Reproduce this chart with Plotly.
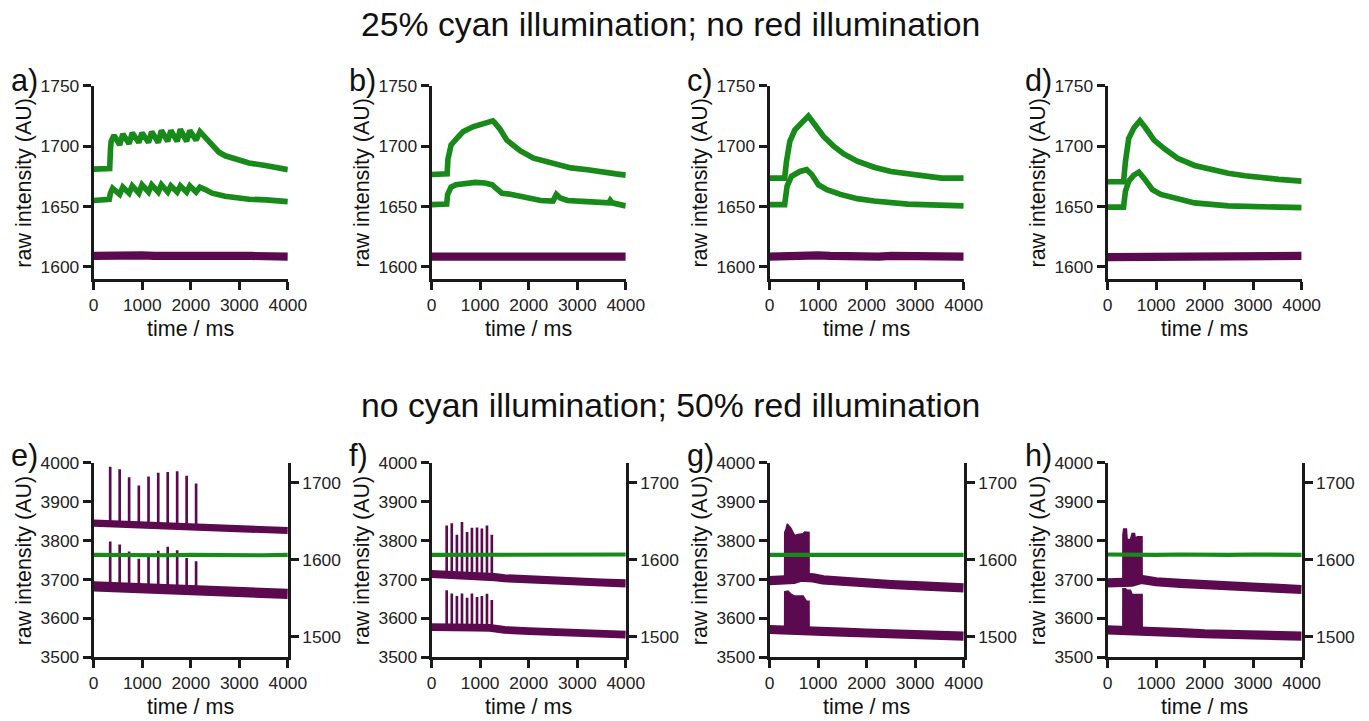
import plotly.graph_objects as go

# Layout is written on a 1369 x 721 grid and enlarged by GRID_SCALE for the page.
GRID_W, GRID_H = 1369, 721
GRID_SCALE = 1 / 0.977
PAGE_PAD = 8                      # default body margin of the html page
FW, FH = 1385, 722                # figure size in page pixels

GREEN = "#178a19"
PURPLE = "#5c0a50"
INK = "#1a1a1a"
FONT = "Liberation Sans, Arial, sans-serif"

time_ticks = [0, 1000, 2000, 3000, 4000]
top_ticks = [1600, 1650, 1700, 1750]
left_ticks = [3500, 3600, 3700, 3800, 3900, 4000]
right_ticks = [1500, 1600, 1700]

titles = ["25% cyan illumination; no red illumination",
          "no cyan illumination; 50% red illumination"]
panel_labels = ["a)", "b)", "c)", "d)", "e)", "f)", "g)", "h)"]

# ---------------- top row: 25% cyan, no red ----------------
a_hi_t = [0, 100, 200, 330, 345, 360, 420, 535, 600, 730, 795, 930, 995, 1130, 1195,
          1330, 1395, 1525, 1590, 1720, 1785, 1915, 1980, 2110, 2190, 2300, 2440, 2580,
          2710, 2850, 2990, 3200, 3540, 3750, 4000]
a_hi_v = [1681, 1681.5, 1681, 1681.5, 1697, 1704, 1709, 1701, 1710, 1702, 1711, 1703, 1711,
          1703, 1712, 1703, 1713, 1704, 1713, 1704, 1714, 1704, 1713, 1705, 1712, 1707, 1700,
          1695, 1692, 1690, 1688, 1686, 1684, 1682.5, 1680.5]
a_lo_t = [0, 150, 320, 345, 390, 535, 600, 730, 795, 930, 995, 1130, 1195, 1330, 1395,
          1525, 1590, 1720, 1785, 1915, 1980, 2110, 2190, 2300, 2440, 2710, 3000, 3200,
          3550, 3800, 4000]
a_lo_v = [1655, 1656, 1656, 1661, 1665, 1660, 1666, 1661, 1667, 1661, 1668, 1662, 1668,
          1662, 1668, 1662, 1667, 1662, 1667, 1662, 1667, 1662, 1666, 1664, 1661, 1658.5,
          1657, 1656, 1655.5, 1654.5, 1654]

b_hi_t = [0, 150, 320, 335, 400, 510, 650, 850, 1130, 1260, 1300, 1410, 1550, 1690, 1830,
          2100, 2520, 2870, 3215, 3560, 3800, 4000]
b_hi_v = [1676.5, 1677, 1677, 1689, 1701, 1706, 1712, 1716, 1719, 1721, 1719.5, 1714, 1705,
          1700, 1696, 1690, 1686, 1682, 1680.5, 1678, 1677, 1676]
b_lo_t = [0, 150, 310, 330, 400, 500, 700, 900, 1100, 1250, 1300, 1400, 1450, 1650, 2000,
          2250, 2500, 2540, 2570, 2650, 2800, 3200, 3500, 3650, 3680, 3720, 4000]
b_lo_v = [1651.5, 1652, 1652, 1660, 1666, 1668, 1669.5, 1670, 1669.5, 1668, 1666, 1662,
          1661, 1660, 1656.5, 1655, 1654.5, 1659, 1660, 1657, 1655, 1654, 1653, 1653, 1655,
          1653, 1650.5]

c_hi_t = [0, 150, 310, 347, 417, 521, 660, 799, 938, 1111, 1319, 1528, 1806, 2153, 2500,
          2847, 3194, 3542, 4000]
c_hi_v = [1673.5, 1674, 1673.5, 1687, 1704, 1713.5, 1720, 1725, 1717.5, 1708, 1700, 1693.5,
          1687.5, 1682.5, 1679, 1677, 1675, 1673.5, 1673.5]
c_lo_t = [0, 150, 310, 361, 451, 625, 764, 868, 1007, 1181, 1458, 1806, 2153, 2847, 3542,
          4000]
c_lo_v = [1651.5, 1652, 1651.5, 1667, 1675, 1679, 1680.5, 1676.5, 1668, 1664, 1660, 1656.5,
          1654.5, 1652, 1651, 1650.5]

d_hi_t = [0, 150, 330, 368, 437, 542, 667, 785, 958, 1167, 1444, 1792, 2139, 2486, 2833,
          3181, 3528, 4000]
d_hi_v = [1670.5, 1670, 1670.5, 1687, 1706.5, 1715, 1721, 1715, 1705, 1698, 1690, 1684,
          1680.5, 1677.5, 1675.5, 1673.5, 1672.5, 1671]
d_lo_t = [0, 150, 330, 368, 437, 542, 646, 750, 924, 1097, 1444, 1792, 2486, 3200, 4000]
d_lo_v = [1649.5, 1649.5, 1649.5, 1662.5, 1671, 1676, 1678.5, 1673.5, 1664, 1660, 1656,
          1653, 1650.5, 1649.5, 1649]

dark_t = [0, 250, 500, 750, 1000, 1250, 1500, 1750, 2000, 2250, 2500, 2750, 3000, 3250,
          3500, 3750, 4000]
a_dark_v = [1609, 1609.5, 1608.5, 1609, 1609.5, 1609, 1608.5, 1609.5, 1609, 1609, 1609.5,
            1608.5, 1609, 1609, 1608.5, 1609, 1608.5]
b_dark_v = [1608.5, 1608.5, 1609, 1609.5, 1609, 1608.5, 1609, 1609, 1608.5, 1609, 1609.5,
            1609, 1608.5, 1609, 1609, 1608.5, 1608.5]
c_dark_v = [1608.5, 1609, 1608.5, 1609, 1609.5, 1609, 1608.5, 1609, 1609, 1608.5, 1609,
            1609, 1608.5, 1608.5, 1609, 1608.5, 1608.5]
d_dark_v = [1608, 1608, 1608.5, 1608, 1608.5, 1608, 1608, 1608.5, 1608, 1608.5, 1608,
            1608.5, 1608.5, 1608, 1608.5, 1609, 1609]

# ---------------- bottom row: no cyan, 50% red ----------------
base_t = [0, 500, 1000, 1500, 2000, 2200, 2500, 3000, 3500, 4000]
e_hi_v = [3845, 3843, 3841, 3839, 3837, 3833, 3831, 3830, 3828, 3826]
e_lo_v = [3682, 3680, 3676, 3674, 3672, 3668, 3666, 3665, 3664, 3663]
e_spike_t = [340, 535, 730, 930, 1130, 1330, 1525, 1720, 1915, 2110]
e_hi_peak = [3990, 3984, 3963, 3942, 3965, 3975, 3977, 3979, 3967, 3947]
e_hi_foot = [3845, 3844, 3843, 3842, 3841, 3840, 3839, 3839, 3838, 3837]
e_lo_peak = [3798, 3790, 3772, 3753, 3764, 3774, 3784, 3775, 3755, 3747]
e_lo_foot = [3681, 3680, 3679, 3678, 3677, 3676, 3675, 3674, 3673, 3672]

f_base_t = [0, 300, 600, 900, 1200, 1300, 1500, 2000, 2500, 3000, 3500, 4000]
f_hi_v = [3714, 3713, 3712, 3711, 3710, 3706, 3703, 3699, 3696, 3694, 3692, 3690]
f_lo_v = [3577, 3578, 3577, 3576, 3575, 3572, 3570, 3567, 3564, 3562, 3560, 3558]
f_spike_t = [310, 415, 520, 625, 730, 830, 935, 1035, 1140, 1240]
f_hi_peak = [3839, 3845, 3815, 3848, 3822, 3833, 3834, 3831, 3839, 3815]
f_hi_foot = [3713, 3713, 3712, 3712, 3711, 3711, 3711, 3710, 3710, 3709]
f_lo_peak = [3672, 3664, 3657, 3664, 3653, 3664, 3655, 3657, 3663, 3647]
f_lo_foot = [3578, 3578, 3577, 3577, 3577, 3576, 3576, 3576, 3575, 3575]

g_hi_t = [0, 150, 300, 500, 650, 800, 900, 1100, 1500, 2000, 2500, 3000, 3500, 4000]
g_hi_v = [3697, 3698, 3697, 3700, 3706, 3708, 3704, 3699, 3694, 3690, 3687, 3684, 3681, 3678]
g_hi_burst_t = [310, 312, 340, 365, 434, 517, 586, 690, 724, 793, 812, 814]
g_hi_burst_v = [3700, 3821, 3830, 3843, 3833, 3813, 3816, 3818, 3822, 3821, 3821, 3708]
g_lo_t = [0, 300, 500, 800, 850, 1000, 1500, 2000, 2500, 3000, 3500, 4000]
g_lo_v = [3571, 3570, 3571, 3572, 3568, 3566, 3564, 3562, 3560, 3558, 3556, 3554]
g_lo_burst_t = [310, 312, 379, 448, 517, 690, 759, 812, 814]
g_lo_burst_v = [3570, 3668, 3670, 3661, 3657, 3657, 3644, 3644, 3572]

h_hi_t = [0, 300, 500, 700, 800, 1000, 1500, 2000, 2500, 3000, 3500, 4000]
h_hi_v = [3691, 3690, 3693, 3700, 3697, 3694, 3690, 3686, 3683, 3680, 3677, 3674]
h_hi_burst_t = [315, 317, 333, 389, 403, 472, 507, 556, 576, 611, 710, 712]
h_hi_burst_v = [3690, 3815, 3830, 3830, 3803, 3803, 3818, 3818, 3803, 3810, 3810, 3700]
h_lo_t = [0, 300, 500, 700, 800, 1000, 1500, 2000, 2500, 3000, 3500, 4000]
h_lo_v = [3570, 3569, 3570, 3571, 3568, 3566, 3563, 3560, 3558, 3556, 3555, 3554]
h_lo_burst_t = [315, 317, 368, 403, 472, 507, 712, 714]
h_lo_burst_v = [3569, 3676, 3676, 3672, 3672, 3661, 3661, 3571]

green_flat_t = [0, 500, 1000, 1500, 2000, 2500, 3000, 3500, 4000]
e_green_v = [1606.5, 1606, 1606.5, 1606, 1606.5, 1606, 1606.5, 1606, 1606.5]
f_green_v = [1606.5, 1606.5, 1607, 1606.5, 1606.5, 1607, 1606.5, 1606.5, 1607]
g_green_v = [1606.5, 1606.5, 1606, 1606.5, 1607, 1606.5, 1606.5, 1607, 1606.5]
h_green_v = [1607, 1606.5, 1606.5, 1607, 1606.5, 1606.5, 1607, 1606.5, 1606.5]

# ---------------- geometry (grid pixels) ----------------
panel_left = [96, 432, 768, 1104]
panel_w = 193
top_row = (84, 278)
bot_row = (463, 658)


def sz(v):
    """Grid-pixel length -> page pixels."""
    return v * GRID_SCALE


def px_x(x):
    return (sz(x) - PAGE_PAD) / FW


def px_y(y):
    return 1 - (sz(y) - PAGE_PAD) / FH


fig = go.Figure()


def line(x, y, i, color, width, yax=None):
    fig.add_trace(go.Scatter(
        x=x, y=y, mode="lines", xaxis=f"x{i if i > 1 else ''}",
        yaxis=yax or f"y{i if i > 1 else ''}",
        line=dict(color=color, width=sz(width)), hoverinfo="skip", showlegend=False))


def spikes(times, feet, peaks, i):
    xs, ys = [], []
    for t, f0, p in zip(times, feet, peaks):
        xs += [t, t, None]
        ys += [f0, p, None]
    fig.add_trace(go.Scatter(
        x=xs, y=ys, mode="lines", xaxis=f"x{i}", yaxis=f"y{i}",
        line=dict(color=PURPLE, width=sz(2.6)), hoverinfo="skip", showlegend=False))


def burst(times, values, i):
    fig.add_trace(go.Scatter(
        x=times, y=values, mode="lines", fill="toself", fillcolor=PURPLE,
        xaxis=f"x{i}", yaxis=f"y{i}", line=dict(color=PURPLE, width=sz(1.5)),
        hoverinfo="skip", showlegend=False))


# top row
for i, (hi_t, hi_v, lo_t, lo_v, dk) in enumerate([
        (a_hi_t, a_hi_v, a_lo_t, a_lo_v, a_dark_v),
        (b_hi_t, b_hi_v, b_lo_t, b_lo_v, b_dark_v),
        (c_hi_t, c_hi_v, c_lo_t, c_lo_v, c_dark_v),
        (d_hi_t, d_hi_v, d_lo_t, d_lo_v, d_dark_v)], start=1):
    line(dark_t, dk, i, PURPLE, 8)
    line(lo_t, lo_v, i, GREEN, 5.5)
    line(hi_t, hi_v, i, GREEN, 5.5)

# bottom row: e
line(green_flat_t, e_green_v, 5, GREEN, 4, yax="y9")
line(base_t, e_hi_v, 5, PURPLE, 7)
line(base_t, e_lo_v, 5, PURPLE, 10)
spikes(e_spike_t, e_hi_foot, e_hi_peak, 5)
spikes(e_spike_t, e_lo_foot, e_lo_peak, 5)
# f
line(green_flat_t, f_green_v, 6, GREEN, 4, yax="y10")
line(f_base_t, f_hi_v, 6, PURPLE, 8)
line(f_base_t, f_lo_v, 6, PURPLE, 7.5)
spikes(f_spike_t, f_hi_foot, f_hi_peak, 6)
spikes(f_spike_t, f_lo_foot, f_lo_peak, 6)
# g
line(green_flat_t, g_green_v, 7, GREEN, 4, yax="y11")
line(g_hi_t, g_hi_v, 7, PURPLE, 9)
line(g_lo_t, g_lo_v, 7, PURPLE, 9)
burst(g_hi_burst_t, g_hi_burst_v, 7)
burst(g_lo_burst_t, g_lo_burst_v, 7)
# h
line(green_flat_t, h_green_v, 8, GREEN, 4, yax="y12")
line(h_hi_t, h_hi_v, 8, PURPLE, 9)
line(h_lo_t, h_lo_v, 8, PURPLE, 9)
burst(h_hi_burst_t, h_hi_burst_v, 8)
burst(h_lo_burst_t, h_lo_burst_v, 8)

tick_font = dict(family=FONT, size=sz(17), color="#222222")
axis_common = dict(showline=True, linecolor=INK, linewidth=sz(2.5), ticks="outside",
                   ticklen=sz(8), tickwidth=sz(2.5), tickcolor=INK, showgrid=False,
                   zeroline=False, tickfont=tick_font, fixedrange=True)

layout = {}
for k in range(8):
    i = k + 1
    col = k % 4
    row = top_row if k < 4 else bot_row
    x0 = panel_left[col]
    xname = "xaxis" if i == 1 else f"xaxis{i}"
    yname = "yaxis" if i == 1 else f"yaxis{i}"
    layout[xname] = dict(axis_common, domain=[px_x(x0), px_x(x0 + panel_w)],
                         range=[0, 4000], tickvals=time_ticks,
                         anchor="y" if i == 1 else f"y{i}")
    if k < 4:
        yr, yt = [1590, 1750], top_ticks
    else:
        yr, yt = [3500, 4000], left_ticks
    layout[yname] = dict(axis_common, domain=[px_y(row[1]), px_y(row[0])],
                         range=yr, tickvals=yt,
                         anchor="x" if i == 1 else f"x{i}")
for j in range(4):
    i = 9 + j
    layout[f"yaxis{i}"] = dict(axis_common, overlaying=f"y{5 + j}", side="right",
                               anchor=f"x{5 + j}", range=[1473.5, 1726],
                               tickvals=right_ticks)

annotations = []


def text(s, x, y, size, angle=0, xanchor="center"):
    annotations.append(dict(text=s, x=px_x(x), y=px_y(y), xref="paper", yref="paper",
                            showarrow=False, xanchor=xanchor, yanchor="middle",
                            textangle=angle,
                            font=dict(family=FONT, size=sz(size), color="#111111")))


text(titles[0], 669, 22, 33)
text(titles[1], 669, 405, 33)
for k in range(8):
    col = k % 4
    row = top_row if k < 4 else bot_row
    x0 = panel_left[col]
    ly = 79 if k < 4 else 455
    text(panel_labels[k], x0 - 84, ly, 30, xanchor="left")
    text("raw intensity (AU)", x0 - 69, (row[0] + row[1]) / 2, 21, angle=-90)
    text("time / ms", x0 + panel_w / 2, row[1] + 50, 21)

fig.update_layout(width=FW, height=FH, margin=dict(l=0, r=0, t=0, b=0),
                  paper_bgcolor="white", plot_bgcolor="white",
                  annotations=annotations, **layout)

fig.write_html("out.html")
